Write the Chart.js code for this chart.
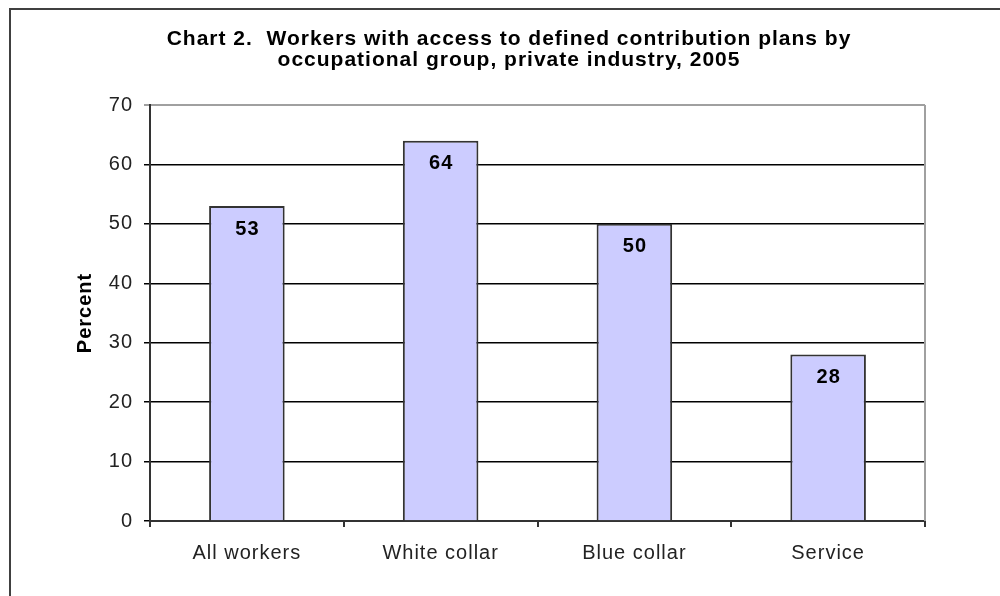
<!DOCTYPE html>
<html>
<head>
<meta charset="utf-8">
<script src="https://cdn.jsdelivr.net/npm/chart.js@4/dist/chart.umd.min.js"></script>
<style>
  html, body { margin: 0; padding: 0; background: #fff; }
  canvas { display: block; }
</style>
</head>
<body>
<canvas id="c" width="1000" height="596"></canvas>
<script>
const categories = ["All workers", "White collar", "Blue collar", "Service"];
const percentValues = [53, 64, 50, 28];
const titleLines = ["Chart 2.  Workers with access to defined contribution plans by", "occupational group, private industry, 2005"];
const yAxisTitle = "Percent";
const yMin = 0, yMax = 70, yStep = 10;

const FONT = "'Liberation Sans', Arial, sans-serif";

const framePlugin = {
  id: 'frame',
  beforeDraw(chart) {
    const ctx = chart.ctx;
    ctx.fillStyle = '#ffffff';
    ctx.fillRect(0, 0, chart.width, chart.height);
    if ('letterSpacing' in ctx) ctx.letterSpacing = '1px';
  },
  afterDraw(chart) {
    const ctx = chart.ctx;
    const a = chart.chartArea;
    ctx.save();
    // outer frame (left and top visible)
    ctx.strokeStyle = '#404040';
    ctx.lineWidth = 2;
    ctx.beginPath();
    ctx.moveTo(10, chart.height + 5);
    ctx.lineTo(10, 9);
    ctx.lineTo(chart.width + 5, 9);
    ctx.stroke();
    // plot area right border (gray)
    ctx.strokeStyle = '#a0a0a0';
    ctx.lineWidth = 2;
    ctx.beginPath();
    ctx.moveTo(a.right, a.top);
    ctx.lineTo(a.right, a.bottom);
    ctx.stroke();
    // chart title
    ctx.font = "bold 21px " + FONT;
    ctx.fillStyle = '#000';
    ctx.textAlign = 'center';
    ctx.textBaseline = 'middle';
    titleLines.forEach((line, i) => {
      ctx.fillText(line, 509, 39 + i * 21);
    });
    ctx.restore();
  }
};

const labelPlugin = {
  id: 'barLabels',
  afterDatasetsDraw(chart) {
    const ctx = chart.ctx;
    const meta = chart.getDatasetMeta(0);
    ctx.save();
    ctx.font = "bold 20px " + FONT;
    ctx.fillStyle = '#000';
    ctx.textAlign = 'center';
    ctx.textBaseline = 'middle';
    meta.data.forEach((bar, i) => {
      ctx.fillText(String(chart.data.datasets[0].data[i]), bar.x + 0.5, bar.y + 23);
    });
    ctx.restore();
  }
};

new Chart(document.getElementById('c'), {
  type: 'bar',
  data: {
    labels: categories,
    datasets: [{
      data: percentValues,
      backgroundColor: '#ccccff',
      borderColor: '#333333',
      borderWidth: 2,
      borderSkipped: 'bottom',
      categoryPercentage: 1.0,
      barPercentage: 0.39
    }]
  },
  options: {
    responsive: false,
    animation: false,
    layout: { padding: { left: 17, right: 75, top: 105, bottom: 0 } },
    plugins: {
      legend: { display: false },
      tooltip: { enabled: false },
      title: { display: false }
    },
    scales: {
      x: {
        offset: true,
        grid: {
          offset: true,
          drawOnChartArea: false,
          drawTicks: true,
          tickLength: 6,
          color: '#333333',
          lineWidth: 2
        },
        border: { display: true, color: '#333333', width: 2 },
        ticks: {
          color: '#222',
          font: { family: FONT, size: 20 },
          padding: 14,
          maxRotation: 0
        },
        afterFit(scale) { scale.height = 75; }
      },
      y: {
        min: yMin,
        max: yMax,
        ticks: {
          stepSize: yStep,
          color: '#222',
          font: { family: FONT, size: 20 },
          padding: 11
        },
        grid: {
          drawTicks: true,
          tickLength: 6,
          color: (ctx) => (ctx.tick && ctx.tick.value === yMax) ? '#a0a0a0' : '#000000',
          lineWidth: (ctx) => (ctx.tick && ctx.tick.value === yMax) ? 2 : 1.5
        },
        border: { display: true, color: '#333333', width: 2 },
        title: {
          display: true,
          text: yAxisTitle,
          color: '#000',
          font: { family: FONT, size: 20, weight: 'bold' },
          padding: { top: 56, bottom: 0 }
        },
        afterFit(scale) { scale.width = 133; }
      }
    }
  },
  plugins: [framePlugin, labelPlugin]
});
</script>
</body>
</html>
